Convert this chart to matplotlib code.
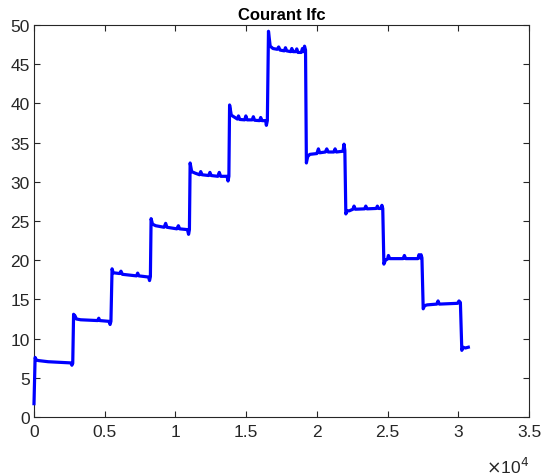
# -*- encoding: utf-8 -*-
import matplotlib
matplotlib.use('Agg')
from matplotlib import pyplot as plt
from matplotlib.ticker import FuncFormatter

# temps (s) et courant Ifc (A)
temps = [
    0, 80, 150, 300, 1000, 2600, 2680, 2740,
    2800, 2900, 3000, 3300, 4500, 4580, 4650, 5300, 5380, 5440,
    5520, 5600, 6050, 6150, 6250, 7250, 7330, 7420, 8100, 8170, 8230,
    8280, 8380, 8600, 9200, 9310, 9400, 10100, 10210, 10300, 10850, 10930, 10990,
    11040, 11150, 11400, 11700, 11790, 11880, 12350, 12440, 12530, 13000, 13100, 13200,
    13650, 13720, 13780,
    13830, 13950, 14200, 14380, 14460, 14550, 14900, 14980, 15070, 15430, 15510, 15600,
    15950, 16030, 16120, 16380, 16430, 16500,
    16580, 16700, 16900, 17200, 17300, 17400, 17700, 17780, 17870, 18150, 18230, 18320,
    18500, 18580, 18660, 18900, 18980, 19050, 19130, 19200,
    19260, 19350, 19500, 20000, 20110, 20200, 20600, 20700, 20800, 21200, 21290, 21380,
    21850, 21920, 21980,
    22050, 22150, 22300, 22550, 22630, 22720, 23380, 23460, 23550, 24200, 24280, 24370,
    24550, 24600, 24660,
    24740, 24850, 25000, 25060, 25150, 26100, 26190, 26280, 27150, 27220, 27300, 27370, 27430,
    27520, 27620, 27800, 28480, 28570, 28660, 29950, 30050, 30150,
    30250, 30330, 30500, 30710,
]
courant = [
    1.7, 7.6, 7.3, 7.2, 7.05, 6.9, 6.6, 6.85,
    13.1, 12.9, 12.5, 12.4, 12.3, 12.6, 12.3, 12.2, 11.8, 12.2,
    18.9, 18.4, 18.3, 18.6, 18.2, 18.0, 18.35, 18.0, 17.85, 17.4, 17.9,
    25.3, 24.6, 24.4, 24.2, 24.7, 24.2, 24.0, 24.4, 24.0, 23.9, 23.3, 23.9,
    32.4, 31.3, 31.1, 30.9, 31.3, 30.9, 30.8, 31.2, 30.8, 30.7, 31.2, 30.7,
    30.7, 30.1, 30.7,
    39.8, 38.5, 38.2, 38.0, 38.4, 37.95, 37.9, 38.4, 37.9, 37.9, 38.3, 37.85,
    37.8, 38.2, 37.8, 37.8, 37.2, 37.8,
    49.2, 47.3, 47.0, 46.9, 47.2, 46.8, 46.7, 47.1, 46.7, 46.6, 47.0, 46.6,
    46.6, 46.95, 46.5, 46.5, 47.0, 46.6, 47.3, 46.8,
    32.4, 33.2, 33.5, 33.6, 34.2, 33.7, 33.8, 34.2, 33.8, 33.8, 34.2, 33.8,
    33.9, 34.8, 34.0,
    25.9, 26.3, 26.3, 26.5, 26.9, 26.5, 26.55, 26.9, 26.55, 26.6, 26.9, 26.6,
    26.6, 27.0, 26.6,
    19.5, 20.0, 20.15, 20.6, 20.2, 20.2, 20.6, 20.2, 20.2, 20.7, 20.3, 20.7, 20.3,
    13.8, 14.2, 14.3, 14.4, 14.8, 14.4, 14.5, 14.8, 14.6,
    8.5, 8.9, 8.8, 8.9,
]

xticks = [0, 5000, 10000, 15000, 20000, 25000, 30000, 35000]
yticks = [0, 5, 10, 15, 20, 25, 30, 35, 40, 45, 50]

plt.rcParams['font.family'] = ['Liberation Sans', 'DejaVu Sans']
gris = '#262626'

fig = plt.figure(figsize=(5.5, 4.77), dpi=100)
ax = fig.add_axes([0.0618, 0.1237, 0.9, 0.8218])

ax.plot(temps, courant, color='#0000ff', linewidth=2.3, solid_joinstyle='round',
        clip_on=False, zorder=3)

ax.set_xlim(0, 35000)
ax.set_ylim(0, 50)
ax.set_xticks(xticks)
ax.set_yticks(yticks)
ax.xaxis.set_major_formatter(FuncFormatter(lambda v, p: '%g' % (v / 1e4)))
ax.tick_params(direction='in', length=4, width=0.8, colors=gris, labelsize=12.5,
               top=True, right=True)
ax.tick_params(axis='y', pad=3)
ax.tick_params(axis='x', pad=5)
for s in ax.spines.values():
    s.set_color(gris)
    s.set_linewidth(0.8)

ax.set_title('Courant Ifc', fontsize=12, fontweight='bold', pad=4)
ax.text(1.0, -0.098, r'$\times$10$^{4}$', transform=ax.transAxes, ha='right',
        va='top', fontsize=12.5, color=gris)

fig.savefig('out.png', dpi=100)
